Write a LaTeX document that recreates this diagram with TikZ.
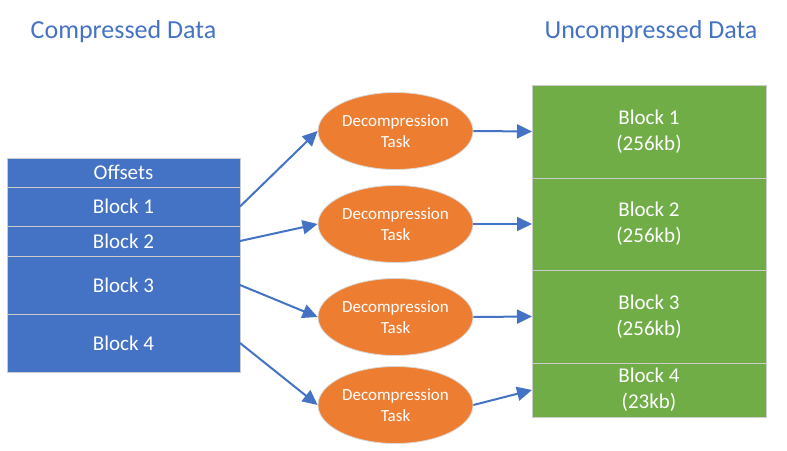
\documentclass[tikz,border=0pt]{standalone}
\usepackage{fontspec}
\setmainfont{Carlito}
\usepackage{tikz}
\usetikzlibrary{
  arrows.meta,
  positioning,
  shapes.geometric,
}
\definecolor{dblue}{HTML}{4472C4}
\definecolor{dorange}{HTML}{ED7D31}
\definecolor{dgreen}{HTML}{70AD47}

\begin{document}
\begin{tikzpicture}[
  x=1pt, y=-1pt,
  font=\fontsize{21}{26}\selectfont,
  cbox/.style={draw=black!20, line width=1pt, fill=dblue, text=white, minimum width=233pt, inner sep=0pt, outer sep=0pt},
  ubox/.style={draw=black!20, line width=1pt, fill=dgreen, text=white, minimum width=234pt, inner sep=0pt, outer sep=0pt, align=center},
  task/.style={ellipse, draw=black!15, line width=0.8pt, fill=dorange, text=white, minimum width=155pt, minimum height=77pt, inner sep=0pt, align=center, font=\fontsize{17}{20.5}\selectfont},
  title/.style={text=dblue, font=\fontsize{26}{30}\selectfont},
  flow/.style={draw=dblue, line width=2pt, -{Triangle[length=15pt,width=14pt]}},
]
  \useasboundingbox (0,0) rectangle (787,450);

  % Titles
  \node[title] (ctitle) at (123.5,32) {Compressed Data};
  \node[title] (utitle) at (651,32)   {Uncompressed Data};

  % Compressed blocks
  \node[cbox, minimum height=29pt, anchor=north west] (offs) at (7,158) {Offsets};
  \node[cbox, minimum height=39pt, below=0pt of offs] (cb1) {Block 1};
  \node[cbox, minimum height=30pt, below=0pt of cb1]  (cb2) {Block 2};
  \node[cbox, minimum height=58pt, below=0pt of cb2]  (cb3) {Block 3};
  \node[cbox, minimum height=58pt, below=0pt of cb3]  (cb4) {Block 4};

  % Decompression tasks
  \node[task] (task1) at (395.5,131) {Decompression\\Task};
  \node[task] (task2) at (395.5,224) {Decompression\\Task};
  \node[task] (task3) at (395.5,317) {Decompression\\Task};
  \node[task] (task4) at (395.5,405) {Decompression\\Task};

  % Uncompressed blocks
  \node[ubox, minimum height=93pt, anchor=north west] (ub1) at (532,85) {Block 1\\(256kb)};
  \node[ubox, minimum height=92pt, below=0pt of ub1] (ub2) {Block 2\\(256kb)};
  \node[ubox, minimum height=93pt, below=0pt of ub2] (ub3) {Block 3\\(256kb)};
  \node[ubox, minimum height=54pt, below=0pt of ub3] (ub4) {Block 4\\(23kb)};

  % Arrows
  \foreach \i in {1,...,4} {
    \draw[flow] (cb\i.east) -- (task\i.west);
    \draw[flow] (task\i.east) -- (ub\i.west);
  }
\end{tikzpicture}
\end{document}
